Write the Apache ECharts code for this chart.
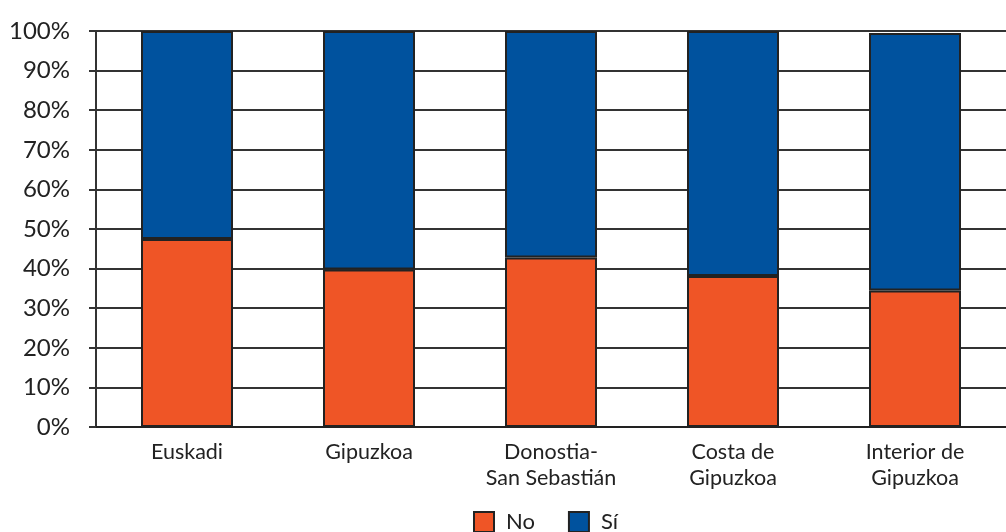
<!DOCTYPE html>
<html><head><meta charset="utf-8">
<script src="https://cdn.jsdelivr.net/npm/echarts@6/dist/echarts.min.js"></script>
<style>html,body{margin:0;padding:0;background:#fff}#c{width:1006px;height:532px}</style>
</head><body><div id="c"></div>
<script>
const categories = ['Euskadi', 'Gipuzkoa', 'Donostia-\nSan Sebastián', 'Costa de\nGipuzkoa', 'Interior de\nGipuzkoa'];
const noValues = [47.5, 39.8, 42.8, 38.1, 34.5];
const siValues = [52.5, 60.2, 57.2, 61.9, 65.0];
const yTicks = [0, 10, 20, 30, 40, 50, 60, 70, 80, 90, 100];

const font = 'Lato, "Open Sans", sans-serif';
const chart = echarts.init(document.getElementById('c'));
chart.setOption({
  animation: false,
  grid: { left: 96, right: 0, top: 31, bottom: 105, containLabel: false },
  legend: {
    data: ['No', 'Sí'], top: 511, left: 473, icon: 'rect', padding: 0,
    itemWidth: 20, itemHeight: 20, itemGap: 33,
    textStyle: { fontFamily: font, fontSize: 22, color: '#222', padding: [0, 0, 0, 7] }
  },
  xAxis: {
    type: 'category', data: categories,
    axisLine: { show: true, lineStyle: { color: '#222', width: 2 } },
    axisTick: { show: false },
    axisLabel: { fontFamily: font, fontSize: 21.5, color: '#222', margin: 12, lineHeight: 26 }
  },
  yAxis: {
    type: 'value', min: 0, max: 100, interval: 10,
    axisLine: { show: true, lineStyle: { color: '#333', width: 2 } },
    axisTick: { show: true, length: 7, lineStyle: { color: '#333', width: 2 } },
    splitLine: { show: true, lineStyle: { color: '#333', width: 2 } },
    axisLabel: {
      fontFamily: font, fontSize: 24, color: '#222', margin: 26,
      formatter: v => yTicks.includes(v) ? v + '%' : ''
    }
  },
  series: [
    { name: 'No', type: 'bar', stack: 't', data: noValues, barWidth: 92,
      itemStyle: { color: '#EF5526', borderColor: '#222', borderWidth: 2 } },
    { name: 'Sí', type: 'bar', stack: 't', data: siValues, barWidth: 92,
      itemStyle: { color: '#00529E', borderColor: '#222', borderWidth: 2 } }
  ]
});
</script></body></html>
